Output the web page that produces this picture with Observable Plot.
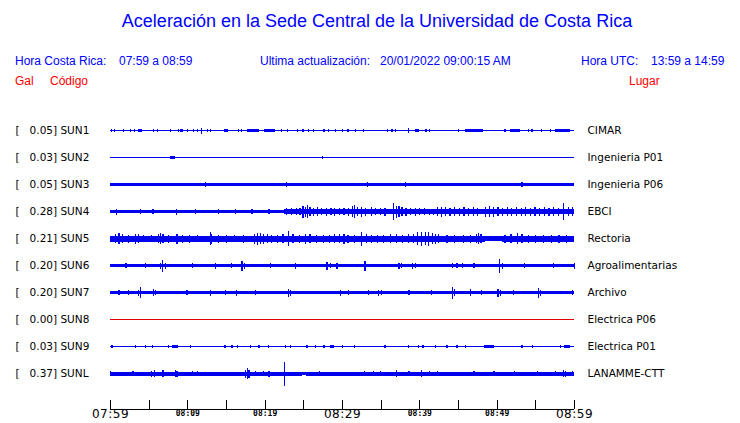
<!DOCTYPE html>
<html>
<head>
<meta charset="utf-8">
<script src="https://cdn.jsdelivr.net/npm/d3@7"></script>
<script src="https://cdn.jsdelivr.net/npm/@observablehq/plot@0.6"></script>
<style>
  body { margin: 0; background: #fff; }
  #wrap { position: relative; width: 740px; height: 423px; overflow: hidden; font-family: "Liberation Sans", Arial, sans-serif; }
  .t { position: absolute; white-space: pre; line-height: 1; }
  .blue { color: #0000ff; }
  .red { color: #ff0000; }
  #title { font-size: 18px; left: 377px; top: 12px; transform: translateX(-50%); }
  .hdr { font-size: 12px; }
  #traces { position: absolute; left: 0; top: 100px; }
  #axis { position: absolute; left: 0; top: 395px; }
</style>
</head>
<body>
<div id="wrap">
  <div id="title" class="t blue"></div>
  <div id="h1" class="t blue hdr" style="left:15px;top:55px;"></div>
  <div id="h2" class="t blue hdr" style="left:119px;top:55px;"></div>
  <div id="h3" class="t blue hdr" style="left:260px;top:55px;"></div>
  <div id="h4" class="t blue hdr" style="left:380px;top:55px;"></div>
  <div id="h5" class="t blue hdr" style="left:581px;top:55px;"></div>
  <div id="h6" class="t blue hdr" style="left:651px;top:55px;"></div>
  <div id="c1" class="t red hdr" style="left:15px;top:75px;"></div>
  <div id="c2" class="t red hdr" style="left:50px;top:75px;"></div>
  <div id="c3" class="t red hdr" style="left:629px;top:75px;"></div>
  <div id="traces"></div>
  <div id="axis"></div>
</div>
<script>
// ---------- Text ----------
const titleText = "Aceleración en la Sede Central de la Universidad de Costa Rica";
const headerTexts = ["Hora Costa Rica:", "07:59 a 08:59", "Ultima actualización:", "20/01/2022 09:00:15 AM", "Hora UTC:", "13:59 a 14:59"];
const columnTexts = ["Gal", "Código", "Lugar"];

// ---------- Stations ----------
const codes  = ["SUN1", "SUN2", "SUN3", "SUN4", "SUN5", "SUN6", "SUN7", "SUN8", "SUN9", "SUNL"];
const places = ["CIMAR", "Ingenieria P01", "Ingenieria P06", "EBCI", "Rectoria", "Agroalimentarias", "Archivo", "Electrica P06", "Electrica P01", "LANAMME-CTT"];
const peaks  = [0.05, 0.03, 0.05, 0.28, 0.21, 0.20, 0.20, 0.00, 0.03, 0.37];

// ---------- Time axis (minutes after 07:59) ----------
const tickTimes  = [0, 5, 10, 15, 20, 25, 30, 35, 40, 45, 50, 55, 60];
const majorTimes = [0, 30, 60];
const majorLabels = ["07:59", "08:29", "08:59"];
const minorTimes = [10, 20, 40, 50];
const minorLabels = ["08:09", "08:19", "08:39", "08:49"];

// ---------- Trace envelopes (minute, relative amplitude) ----------
// [t0, t1, amp] = steady band ; [t, amp] = single burst
const sun1 = [[0,60,0.7],[0.13,1.6],[0.56,1.6],[1.72,1.6],[2.59,1.6],[3.14,1.6],[3.6,4.2,1.5],[5.6,1.6],[6.04,1.6],[7.76,1.6],[8.75,1.6],[9.1,9.5,1.5],[9.92,1.6],[10.77,1.6],[11.21,1.6],[11.8,3],[12.5,1.6],[12.93,1.6],[14.8,15.2,1.5],[16.5,1.6],[16.94,1.6],[17.7,19.3,1.4],[19.9,21.3,1.4],[22.07,1.6],[22.93,1.6],[24.2,1.6],[24.9,1.6],[25.57,1.6],[26.2,1.6],[27.6,1.6],[28.2,1.6],[29.1,1.6],[30.0,1.6],[30.7,1.6],[31.7,1.6],[32.76,1.6],[35.86,1.6],[36.4,1.6],[36.85,1.6],[38.5,2.6],[39.4,40.0,1.5],[40.8,1.6],[41.2,1.6],[45.0,1.6],[45.9,48.2,1.4],[51.0,1.6],[51.7,53.0,1.4],[54.1,1.6],[54.5,1.6],[55.7,1.6],[56.9,1.6],[57.5,59.5,1.4]];
const sun2 = [[0,60,0.55],[7.8,8.4,1.3],[7.85,1.9],[27.4,1.6]];
const sun3 = [[0,60,1.8],[12.3,2.3],[22.8,2.6],[33.2,2.2],[38.1,2.2],[53.2,2.3]];
const sun4 = [[0,22.5,1.7],[22.5,60,2.7],[0.73,3],[3.88,2.6],[5.5,2.3],[8.53,3],[11.0,2.6],[14.0,2.6],[16.2,2.4],[18.3,2.6],[20.5,2.5],
  [22.8,3.5],[23.4,3.5],[24.0,3.5],[24.5,3.5],[24.9,6],[25.2,5],[25.5,6.5],[25.8,4.5],[26.3,4],[26.8,4.5],[27.3,3.5],[27.9,4],[28.5,3.5],[29.0,4],[29.6,3.5],[30.2,3.5],[30.8,4],
  [31.3,5.5],[31.6,6.5],[31.9,4.5],[32.5,5],[33.0,4],[33.7,4.5],[34.3,3.5],[34.9,3.5],[35.5,4],[36.6,8.5],[37.0,6],[37.3,5.5],[37.7,4.5],[38.2,4],[38.8,3.5],[39.4,4],[40.0,3.5],[40.6,3.5],[41.2,3],[41.8,3],
  [42.3,4.5],[42.8,5],[43.3,4.5],[43.9,4],[44.5,4.5],[45.1,4],[45.7,4.5],[46.3,4],[46.9,4.5],[47.5,4],[48.5,5],[49.0,5.5],[49.5,5],[50.1,4.5],[50.7,4],[51.3,4.5],[51.9,4],[52.5,4.5],[53.1,4],[53.7,4.5],[54.3,4],[54.9,4.5],[55.5,4],[56.1,4.5],[56.7,4],[57.3,4.5],[57.9,4],[58.6,8.5],[59.2,4.5],[59.7,4.5]];
const sun5 = [[0,48.5,3],[48.5,50.7,2.2],[50.7,60,3],[0.6,4.5],[1.1,5.5],[1.6,4.5],[2.3,4],[3.2,5],[3.6,4.5],[4.3,3.8],[5.3,3.8],[6.2,4.5],[6.5,5.5],[6.8,4.5],[7.5,4],[8.6,5],[9.3,4],[10.2,4],[11.2,3.8],[12.9,6.5],[13.1,5],[14.0,4],[15.0,4],[16.0,3.8],[17.2,4],[18.6,5],[19.0,6],[19.4,5.5],[19.8,5],[20.3,4.5],[20.8,4],[21.6,4],[22.3,4.5],[23.06,7.5],[23.6,4.5],[24.4,4],[25.2,5],[25.8,4.5],[26.6,4],[27.5,4],[28.3,4],[29.0,4.5],[29.6,4.5],[30.2,5],[30.7,4],[31.5,4],[32.5,7],[33.1,4.5],[33.8,4],[34.5,4],[35.3,4],[36.2,4.5],[37.0,4.5],[37.8,4],[38.5,4.5],[39.2,4.5],[39.7,6.5],[40.2,7],[40.7,6.5],[41.1,7],[41.6,5.5],[42.0,5],[42.4,4.5],[43.5,4],[44.5,4],[45.6,4],[46.5,4],[47.3,4.5],[47.6,5.5],[47.9,4.5],[51.0,4],[51.8,4.5],[52.6,5.5],[53.2,4.5],[54.0,4],[55.0,4],[56.0,4],[57.0,4],[58.0,4],[59.0,4]];
const sun6 = [[0,60,1.6],[2.0,2.3],[4.5,2.3],[6.5,3],[6.77,6],[7.1,3],[10.6,2.3],[13.6,3],[15.6,2.3],[17.0,5],[17.3,3],[20.7,2.5],[23.9,3],[28.0,4],[28.4,2.5],[29.3,3],[32.9,5],[37.3,3],[37.6,2.5],[39.0,3],[39.4,2.5],[44.2,2.5],[44.8,2.5],[45.5,2.5],[47.0,2.5],[50.3,7],[50.7,3],[53.5,2.3],[57.3,2.5],[59.95,3]];
const sun7 = [[0,60,1.8],[1.1,2.3],[2.3,2.3],[3.6,3],[3.88,5.5],[5.6,3.5],[5.8,2.8],[9.9,2.5],[12.9,3],[14.9,2.5],[16.3,3],[18.8,2.5],[23.06,4],[23.3,3],[29.7,3],[30.8,2.5],[33.4,2.5],[34.7,3],[35.0,2.5],[38.6,2.5],[41.5,2.4],[44.2,6],[44.5,3.5],[46.6,3.5],[48.0,2.5],[50.1,4],[50.4,3],[52.1,2.5],[55.3,5],[55.6,3],[59.7,2.5]];
const sun8 = [[0,60,0.5]];
const sun9 = [[0,60,0.6],[0.2,1.5],[3.2,1.3],[4.5,1.3],[5.4,1.3],[7.5,1.3],[8.0,8.75,1.4],[10.3,1.5],[14.8,1.3],[15.7,1.3],[16.4,1.5],[18.1,1.3],[19.2,1.3],[20.4,1.3],[22.6,1.5],[23.3,1.3],[25.4,1.3],[26.5,1.5],[27.6,1.3],[28.4,29.0,1.4],[30.0,1.3],[31.6,1.3],[35.5,1.5],[38.5,1.3],[39.8,1.3],[40.4,1.3],[42.0,1.3],[43.5,1.3],[44.8,1.5],[45.9,1.3],[48.3,49.6,1.4],[53.2,1.3],[54.6,1.3],[58.2,1.3],[58.7,59.5,1.4]];
const sunL = [[0,24.8,2.0],[24.8,25.4,1.5],[25.4,60,2.0],[0.05,2.7],[2.9,2.5],[5.26,3],[5.7,3.5],[6.8,3.5],[8.4,3.5],[8.6,3],[10.6,2.5],[11.2,2.6],[17.5,4],[17.7,5.5],[17.9,4],[18.75,2.5],[19.8,2.5],[20.5,3],[22.5,12],[27.0,2.5],[32.8,2.5],[34.0,2.5],[34.9,2.5],[37.0,3.5],[38.6,2.5],[40.2,3.5],[41.2,2.5],[42.3,2.5],[47.0,2.5],[49.6,2.5],[52.2,2.5],[55.2,2.5],[57.5,2.5],[58.6,3.5],[58.8,3],[59.7,2.5]];
const traces = [sun1, sun2, sun3, sun4, sun5, sun6, sun7, sun8, sun9, sunL];

// ---------- Header text ----------
document.getElementById("title").textContent = titleText;
["h1","h2","h3","h4","h5","h6"].forEach((id, i) => document.getElementById(id).textContent = headerTexts[i]);
["c1","c2","c3"].forEach((id, i) => document.getElementById(id).textContent = columnTexts[i]);

// ---------- Build records for faceting ----------
const BLUE = "#0000f0", RED = "#e00000";
const records = [];
codes.forEach((code, i) => {
  const color = peaks[i] === 0 ? RED : BLUE;
  records.push({code, kind: "left", text: "[\u00a0\u00a0\u00a0" + peaks[i].toFixed(2) + "] " + code});
  records.push({code, kind: "right", text: places[i]});
  traces[i].forEach(e => {
    if (e.length === 3) records.push({code, kind: "band", t0: e[0], t1: e[1], amp: e[2], color});
    else records.push({code, kind: "spike", t0: e[0], amp: e[1], color});
  });
});

const labelFont = "DejaVu Sans, sans-serif";
const tracePlot = Plot.plot({
  width: 740,
  height: 287,
  marginLeft: 110,
  marginRight: 166,
  marginTop: 17,
  marginBottom: 0,
  x: {domain: [0, 60], axis: null},
  y: {domain: [-13.5, 13.5], axis: null},
  fy: {domain: codes, axis: null, padding: 0},
  color: {type: "identity"},
  facet: {data: records, y: "code"},
  marks: [
    Plot.rect(records, {filter: d => d.kind === "band", x1: "t0", x2: "t1", y1: d => -d.amp, y2: d => d.amp, fill: "color", shapeRendering: "crispEdges"}),
    Plot.ruleX(records, {filter: d => d.kind === "spike", x: "t0", y1: d => -d.amp, y2: d => d.amp, stroke: "color", strokeWidth: 1.2, shapeRendering: "crispEdges"}),
    Plot.text(records, {filter: d => d.kind === "left", text: "text", frameAnchor: "left", textAnchor: "start", dx: -95, fontSize: 10.5, fontFamily: labelFont, fill: "black"}),
    Plot.text(records, {filter: d => d.kind === "right", text: "text", frameAnchor: "right", textAnchor: "start", dx: 13, fontSize: 10.5, fontFamily: labelFont, fill: "black"})
  ]
});
document.getElementById("traces").appendChild(tracePlot);

const axisPlot = Plot.plot({
  width: 740,
  height: 28,
  marginLeft: 110,
  marginRight: 166,
  marginTop: 5,
  marginBottom: 14,
  x: {domain: [0, 60], axis: null},
  y: {domain: [0, 1], axis: null},
  marks: [
    Plot.ruleY([0], {stroke: "black", strokeWidth: 1, shapeRendering: "crispEdges"}),
    Plot.tickX(tickTimes, {x: d => d, stroke: "black", strokeWidth: 1, shapeRendering: "crispEdges"}),
    Plot.text(majorTimes, {x: d => d, text: (d, i) => majorLabels[i], frameAnchor: "bottom", dy: 8.5, fontSize: 12, fontFamily: labelFont, fill: "black"}),
    Plot.text(minorTimes, {x: d => d, text: (d, i) => minorLabels[i], frameAnchor: "bottom", dy: 6.5, fontSize: 8, fontWeight: "bold", fontFamily: "DejaVu Sans Mono, monospace", fill: "black"})
  ]
});
const textGroups = axisPlot.querySelectorAll('g[aria-label="text"]');
if (textGroups[0]) textGroups[0].style.letterSpacing = "0.5px";
document.getElementById("axis").appendChild(axisPlot);
</script>
</body>
</html>
